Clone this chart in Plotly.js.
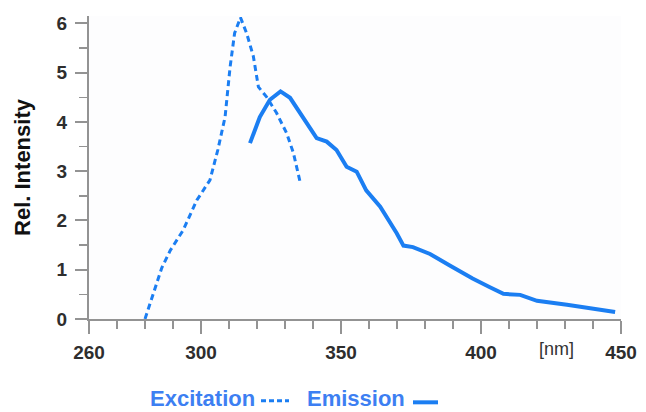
<!DOCTYPE html>
<html>
<head>
<meta charset="utf-8">
<script src="https://cdn.plot.ly/plotly-3.0.1.min.js"></script>
<style>html,body{margin:0;padding:0;background:#fff;}#chart{width:646px;height:412px;}</style>
</head>
<body>
<div id="chart"></div>
<script>
// Excitation spectrum (dashed)
const excitationNm = [280, 286, 289, 293.6, 298.5, 303.2, 306, 308.6, 310.4, 312, 314.1, 316.3, 318.7, 320.5, 323.4, 327, 330.6, 333, 335.4];
const excitationInt = [0, 1.04, 1.39, 1.8, 2.41, 2.82, 3.43, 4.1, 5.12, 5.8, 6.12, 5.8, 5.33, 4.71, 4.51, 4.18, 3.77, 3.37, 2.78];
// Emission spectrum (solid)
const emissionNm = [317.5, 321, 324.6, 328.4, 331.8, 336.5, 341.3, 344.9, 348.4, 352, 355.6, 359, 364, 369.9, 372.3, 375.7, 381.8, 389, 397, 403, 408, 414, 420, 430.7, 439, 447.9];
const emissionInt = [3.57, 4.1, 4.45, 4.62, 4.49, 4.1, 3.67, 3.6, 3.43, 3.09, 2.99, 2.61, 2.28, 1.74, 1.49, 1.46, 1.32, 1.08, 0.82, 0.65, 0.51, 0.49, 0.37, 0.29, 0.22, 0.14];
// Axis ticks
const xTickVals = [260, 300, 350, 400, 450];
const xTickText = ['260', '300', '350', '400', '450'];
const yTickVals = [0, 1, 2, 3, 4, 5, 6];
const legendNames = ['Excitation', 'Emission'];
const unitLabel = '[nm]';

const lineColor = '#1b7ef2';
const textBlue = '#3d7ff2';
const axisGray = '#939393';
const fontFam = 'Liberation Sans, Arial, sans-serif';

const traces = [
  {x: excitationNm, y: excitationInt, type: 'scatter', mode: 'lines', name: legendNames[0],
   line: {color: lineColor, width: 3, dash: '6px,4px'}},
  {x: emissionNm, y: emissionInt, type: 'scatter', mode: 'lines', name: legendNames[1],
   line: {color: lineColor, width: 4}}
];

const layout = {
  width: 646, height: 412,
  margin: {l: 89, r: 25, t: 16, b: 93},
  paper_bgcolor: '#ffffff', plot_bgcolor: '#fdfdfe',
  showlegend: false,
  font: {family: fontFam},
  xaxis: {
    range: [260, 450], tickmode: 'array', tickvals: xTickVals, ticktext: xTickText,
    showgrid: false, zeroline: false, showline: true, linecolor: axisGray, linewidth: 2,
    ticks: 'outside', ticklen: 13, tickwidth: 2, tickcolor: axisGray,
    ticklabelstandoff: 2,
    tickfont: {family: fontFam, size: 19, color: '#2e2e2e', weight: 'bold'},
    minor: {tickmode: 'linear', tick0: 260, dtick: 10, ticks: 'outside', ticklen: 8, tickwidth: 1.5, tickcolor: axisGray, showgrid: false}
  },
  yaxis: {
    range: [0, 6.15], tickmode: 'array', tickvals: yTickVals,
    showgrid: false, zeroline: false, showline: true, linecolor: axisGray, linewidth: 2,
    ticks: 'outside', ticklen: 12, tickwidth: 2, tickcolor: axisGray,
    ticklabelstandoff: 4,
    tickfont: {family: fontFam, size: 19, color: '#2e2e2e', weight: 'bold'},
    minor: {tickmode: 'linear', tick0: 0, dtick: 0.5, ticks: 'outside', ticklen: 8, tickwidth: 1.5, tickcolor: axisGray, showgrid: false},
    title: {text: 'Rel. Intensity', standoff: 20, font: {family: fontFam, size: 22, color: '#111', weight: 'bold'}}
  },
  annotations: [
    {text: unitLabel, xref: 'x', yref: 'paper', x: 427, y: -0.1, yanchor: 'middle', showarrow: false,
     font: {family: fontFam, size: 18, color: '#333'}},
    {text: legendNames[0], xref: 'paper', yref: 'paper', x: (257 - 89) / 532, y: -0.262, xanchor: 'right', yanchor: 'middle', showarrow: false,
     font: {family: fontFam, size: 22, color: textBlue, weight: 'bold'}},
    {text: legendNames[1], xref: 'paper', yref: 'paper', x: (305 - 89) / 532, y: -0.262, xanchor: 'left', yanchor: 'middle', showarrow: false,
     font: {family: fontFam, size: 22, color: textBlue, weight: 'bold'}}
  ],
  shapes: [
    {type: 'line', xref: 'paper', yref: 'paper', x0: (261 - 89) / 532, x1: (289 - 89) / 532, y0: -0.27, y1: -0.27,
     line: {color: lineColor, width: 3, dash: '5px,3px'}},
    {type: 'line', xref: 'paper', yref: 'paper', x0: (413 - 89) / 532, x1: (438 - 89) / 532, y0: -0.275, y1: -0.275,
     line: {color: lineColor, width: 4}}
  ]
};

Plotly.newPlot('chart', traces, layout, {displayModeBar: false, staticPlot: true});
</script>
</body>
</html>
